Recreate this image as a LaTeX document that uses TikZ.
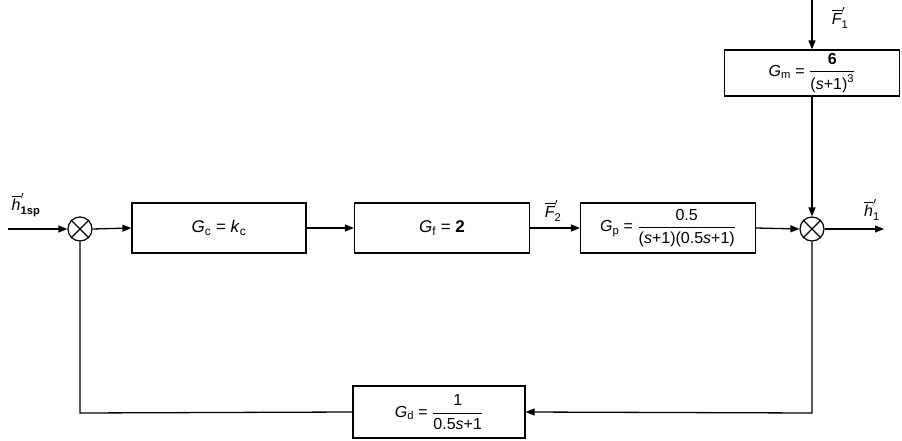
\documentclass[tikz,border=0pt]{standalone}
\usepackage{amsmath}
\usepackage{fontspec}
\setmainfont{Liberation Sans}
\usetikzlibrary{arrows.meta}
\newcommand\ovl[1]{\overline{\text{\itshape #1}}}
\begin{document}
\begin{tikzpicture}[x=1pt,y=-1pt,
  blk/.style={draw,line width=1.2pt,minimum height=50pt,inner sep=0pt,font=\fontsize{17}{19}\selectfont},
  fblk/.style={blk,font=\fontsize{16}{18}\selectfont},
  sumj/.style={draw,circle,line width=1.2pt,minimum size=24pt,inner sep=0pt},
  lin/.style={line width=1.3pt},
  arr/.style={lin,-{Triangle[length=9pt,width=7pt]}},
  lbl/.style={font=\fontsize{16}{18}\selectfont,inner sep=0pt}]
\useasboundingbox (0,0) rectangle (902,441);
% summing junctions
\node[sumj] (s1) at (80,229) {};
\node[sumj] (s2) at (812,229) {};
\foreach \s in {s1,s2}{
  \draw[lin] (\s.north east) -- (\s.south west);
  \draw[lin] (\s.north west) -- (\s.south east);
}
% blocks
\node[blk,minimum width=174pt] (gc) at (219,228) {\textit{G}\textsubscript{c} = \textit{k}\textsubscript{c}};
\node[blk,minimum width=175pt] (gf) at (442,228) {\textit{G}\textsubscript{f} = \textbf{2}};
\node[fblk,minimum width=175pt] (gp) at (668,228) {\textit{G}\textsubscript{p} = $\dfrac{\text{0.5}}{\text{(\textit{s}+1)(0.5\textit{s}+1)}}$};
\node[fblk,minimum width=175pt,minimum height=46pt] (gm) at (812,73) {\textit{G}\textsubscript{m} = $\dfrac{\text{\textbf{6}}}{\text{(\textit{s}+1)}^{\text{3}}}$};
\node[fblk,minimum width=172pt,minimum height=52pt] (gd) at (439,412) {\textit{G}\textsubscript{d} = $\dfrac{\text{1}}{\text{0.5\textit{s}+1}}$};
% coordinates
\coordinate (in) at (8,229);
\coordinate (out) at (884,229);
\coordinate (top) at (812,0);
\coordinate (br) at (812,413);
\coordinate (bl) at (80,413);
% connectors
\draw[arr] (in) -- (s1.west);
\draw[arr] (s1.east) -- (gc.west);
\draw[arr] (gc.east) -- (gf.west);
\draw[arr] (gf.east) -- (gp.west);
\draw[arr] (gp.east) -- (s2.west);
\draw[arr] (s2.east) -- (out);
\draw[arr] (top) -- (gm.north);
\draw[arr] (gm.south) -- (s2.north);
\draw[arr] (s2.south) -- (br) -- (gd.east);
\draw[lin] (gd.west) -- (bl) -- (s1.south);
% labels
\node[lbl] (lsp) at (26,205) {$\ovl{h}'_{\text{\bfseries 1sp}}$};
\node[lbl] (lf2) at (553,211) {$\ovl{F}'_{\text{2}}$};
\node[lbl] (lh1) at (872,210) {$\ovl{h}'_{\text{1}}$};
\node[lbl] (lf1) at (840,18) {$\ovl{F}'_{\text{1}}$};
\end{tikzpicture}
\end{document}
